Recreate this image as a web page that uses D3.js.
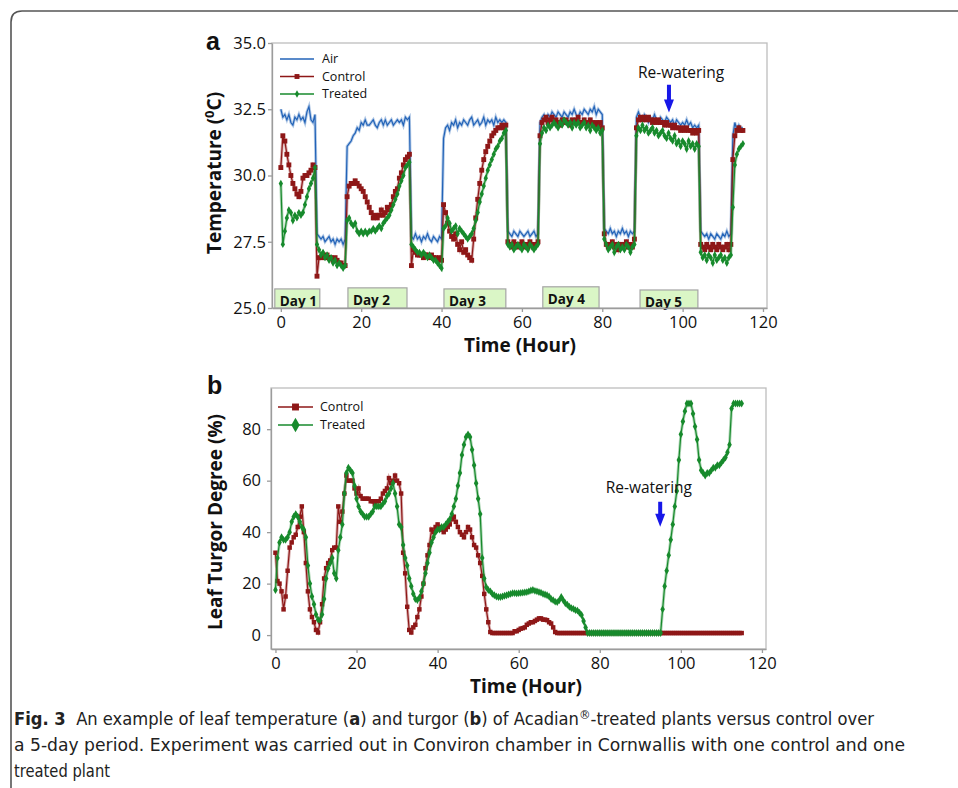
<!DOCTYPE html>
<html>
<head>
<meta charset="utf-8">
<script src="https://cdn.jsdelivr.net/npm/d3@7"></script>
<style>
  body { margin: 0; background: #fff; }
  svg text { font-family: "Open Sans", "Noto Sans", sans-serif; fill: #111; }
  .axis path, .axis line { stroke: #9c9c9c; stroke-width: 1.3; }
  .axis text { font-size: 16.5px; }
  .frame { fill: none; stroke: #bdbdbd; stroke-width: 1.3; }
  .title { font-size: 19px; font-weight: bold; }
  .legend { font-size: 12.5px; }
  .caption { font-family: "Liberation Sans Narrow", "DejaVu Sans Condensed", "Liberation Sans", sans-serif; font-size: 17px; fill: #222; }
</style>
</head>
<body>
<svg id="fig" width="958" height="788"></svg>
<script>
// readings every half hour, starting at hour 0
var hourStep = 0.5;

// ---- panel a : leaf / air temperature (deg C) ----
var airTemp = [
  32.5,32.2,32.3,32.1,32.3,32.0,31.9,32.2,32.1,32.3,32.1,32.2,32.0,32.4,32.6,32.1,32.0,32.3,
  27.8,27.7,27.6,27.7,27.5,27.6,27.7,27.5,27.6,27.4,27.6,27.5,27.6,27.4,27.6,
  31.1,31.2,31.3,31.5,31.6,31.8,31.7,32.0,31.9,32.1,31.9,31.9,32.0,32.1,31.9,31.8,
  32.0,32.1,31.9,32.1,31.9,32.0,32.1,31.9,32.0,32.1,32.0,32.1,31.9,32.2,32.1,32.2,
  27.7,27.6,27.8,27.6,27.7,27.5,27.7,27.6,27.8,27.6,27.5,27.7,27.6,27.5,27.7,27.6,
  31.4,31.8,31.9,31.7,32.0,31.9,32.1,31.8,32.0,31.9,32.1,32.0,31.9,32.1,32.2,31.9,
  32.0,32.1,31.9,32.0,32.2,31.9,32.1,32.0,32.1,31.9,32.2,32.0,32.1,32.0,32.1,32.0,
  27.9,27.8,27.7,27.9,27.8,27.7,27.9,27.8,27.7,27.8,27.9,27.7,27.8,27.9,27.7,27.8,
  32.0,32.2,32.3,32.1,32.3,32.2,32.4,32.3,32.2,32.4,32.3,32.2,32.4,32.3,32.2,32.4,
  32.3,32.5,32.3,32.2,32.4,32.3,32.5,32.4,32.3,32.5,32.4,32.6,32.3,32.5,32.4,32.3,
  28.0,27.9,27.8,28.0,27.8,27.9,27.7,27.9,27.8,28.0,27.8,27.9,27.7,27.9,27.8,27.9,
  32.2,32.4,32.2,32.1,32.3,32.2,32.0,32.2,32.1,32.3,32.1,32.0,32.2,32.1,32.0,32.2,
  32.1,32.0,32.1,31.9,32.1,32.0,31.9,32.0,31.9,32.1,31.9,32.0,31.8,31.9,31.8,31.9,
  27.9,27.8,27.7,27.8,27.6,27.8,27.7,27.6,27.8,27.7,27.6,27.8,27.7,27.9,27.7,27.8,
  31.5,32.0,31.7,31.9,31.8,31.8
];
var controlTemp = [
  30.3,31.5,31.3,30.8,30.4,30.0,29.7,29.5,29.3,29.2,29.4,29.9,30.0,30.0,30.1,30.2,30.4,30.3,
  26.2,26.9,26.9,27.0,26.9,27.0,26.9,26.9,26.8,26.9,26.8,26.7,26.7,26.6,26.6,
  29.2,29.6,29.7,29.7,29.8,29.7,29.6,29.5,29.4,29.2,29.0,28.8,28.6,28.4,28.5,28.4,
  28.5,28.7,28.5,28.6,28.8,28.7,28.9,29.2,29.4,29.5,29.9,30.1,30.4,30.6,30.7,30.8,
  26.6,27.2,27.1,27.0,27.0,27.0,26.9,27.0,27.0,26.9,27.0,26.9,26.9,26.8,26.9,26.8,
  28.9,28.6,28.2,27.9,27.7,27.6,27.8,27.4,27.2,27.5,27.1,27.2,27.0,26.9,26.8,27.6,
  28.4,29.1,29.7,30.2,30.6,30.9,31.1,31.3,31.5,31.6,31.7,31.8,31.8,31.9,31.8,31.9,
  27.5,27.4,27.3,27.5,27.4,27.3,27.4,27.5,27.3,27.4,27.3,27.5,27.4,27.3,27.4,27.5,
  31.5,32.0,32.1,32.2,32.0,32.1,32.2,32.0,32.1,32.0,31.9,32.1,32.0,32.1,32.0,31.9,
  32.1,32.0,32.1,32.2,32.0,32.0,32.1,32.0,31.9,32.1,32.0,31.9,32.0,31.9,32.0,31.8,
  27.8,27.4,27.3,27.4,27.5,27.3,27.4,27.2,27.4,27.3,27.4,27.5,27.3,27.4,27.3,27.6,
  31.8,32.1,32.2,32.1,32.2,32.1,32.2,32.1,32.0,32.1,32.0,32.1,32.0,32.0,31.9,32.0,
  31.9,31.9,31.8,31.9,31.8,31.8,31.7,31.8,31.7,31.8,31.7,31.7,31.6,31.7,31.6,31.7,
  27.4,27.3,27.2,27.4,27.3,27.2,27.4,27.3,27.2,27.4,27.3,27.2,27.3,27.4,27.2,27.4,
  30.6,31.5,31.7,31.8,31.7,31.7
];
var treatedTemp = [
  29.7,27.4,27.9,28.4,28.7,28.6,28.3,28.5,28.4,28.6,28.5,28.6,28.9,29.2,29.5,29.7,29.9,30.3,
  27.4,27.2,27.0,27.1,26.9,27.0,26.8,26.9,26.7,26.8,26.6,26.7,26.6,26.5,26.6,
  28.3,28.4,28.2,28.1,28.2,27.9,27.8,27.9,27.8,27.9,27.8,27.9,27.9,28.0,27.9,28.0,
  28.1,28.0,28.2,28.3,28.4,28.5,28.7,28.9,29.1,29.3,29.6,29.8,30.0,30.3,30.4,30.5,
  27.4,27.3,27.2,27.1,27.1,27.0,27.1,27.0,26.9,27.0,26.9,26.8,26.8,26.7,26.6,26.5,
  28.0,28.1,28.4,28.2,27.9,28.0,28.1,27.8,28.0,27.9,27.8,27.7,27.6,27.7,27.8,28.0,
  28.3,28.6,29.0,29.3,29.6,29.9,30.2,30.4,30.6,30.8,31.0,31.1,31.3,31.4,31.6,31.7,
  27.4,27.3,27.4,27.2,27.3,27.4,27.3,27.2,27.4,27.3,27.2,27.4,27.3,27.2,27.3,27.4,
  31.2,31.6,31.8,31.7,31.9,31.8,31.9,32.0,31.9,31.8,32.0,31.9,32.1,32.0,31.9,32.0,
  31.8,32.0,31.9,32.0,31.8,31.9,32.0,31.8,31.9,31.7,31.9,31.8,31.7,31.8,31.6,31.7,
  27.6,27.4,27.2,27.3,27.4,27.1,27.3,27.4,27.2,27.3,27.2,27.4,27.3,27.1,27.3,27.4,
  31.5,31.8,31.7,31.9,31.7,31.8,31.6,31.7,31.8,31.6,31.7,31.5,31.6,31.7,31.5,31.4,
  31.6,31.4,31.3,31.5,31.2,31.3,31.1,31.3,31.2,31.0,31.3,31.1,31.2,31.0,31.2,31.1,
  27.1,26.9,27.0,26.8,27.0,26.9,26.7,27.0,26.8,26.9,27.0,26.8,26.9,26.7,26.9,27.0,
  28.8,30.4,30.8,31.0,31.1,31.2
];
var tempTicks = [25, 27.5, 30, 32.5, 35];
var hourTicks = [0, 20, 40, 60, 80, 100, 120];

// light periods shown as boxes on the time axis
var dayNames = ["Day 1", "Day 2", "Day 3", "Day 4", "Day 5"];
var dayStart = [-1.5, 16.7, 40.6, 65.2, 89.4];
var dayEnd = [9.7, 31.4, 56.0, 79.2, 103.8];
var dayTop = [25.72, 25.76, 25.72, 25.80, 25.68];

// ---- panel b : leaf turgor degree (%) ----
var controlTurgor = [
  32,21,20,17,10,15,25,34,36,38, 39,42,46,50,40,28,17,10,7,5,
  2,1,5,12,22,26,28,29,33,34, 34,50,44,48,55,62,60,60,60,57,
  55,57,54,53,53,53,53,52,52,51, 52,52,53,55,56,57,61,59,60,62,
  60,59,55,32,24,11,2,1,3,4, 7,10,15,20,26,31,35,41,40,42,
  43,42,41,40,41,42,43,45,46,44, 42,40,39,38,40,42,41,38,35,34,
  31,28,23,16,10,5,1.2,0.8,0.8,0.8, 0.8,0.8,0.8,0.8,0.8,0.8,0.8,0.8,1.5,1.5,
  2,2.5,2.7,3,4,4.5,5,5,5.5,6, 6.5,6.5,6,6,5.8,5,4.5,3,1.2,0.8,
  0.8,0.8,0.8,0.8,0.8,0.8,0.8,0.8,0.8,0.8, 0.8,0.8,0.8,0.8,0.8,0.8,0.8,0.8,0.8,0.8,
  0.8,0.8,0.8,0.8,0.8,0.8,0.8,0.8,0.8,0.8, 0.8,0.8,0.8,0.8,0.8,0.8,0.8,0.8,0.8,0.8,
  0.8,0.8,0.8,0.8,0.8,0.8,0.8,0.8,0.8,0.8, 0.8,0.8,0.8,0.8,0.8,0.8,0.8,0.8,0.8,0.8,
  0.8,0.8,0.8,0.8,0.8,0.8,0.8,0.8,0.8,0.8, 0.8,0.8,0.8,0.8,0.8,0.8,0.8,0.8,0.8,0.8,
  0.8,0.8,0.8,0.8,0.8,0.8,0.8,0.8,0.8,0.8,0.8
];
var treatedTurgor = [
  17.5,30,36,38,37,37,38,40,44,46, 47,46,44,42,41,38,27,20,15,12,
  8,6,5.8,8,14,22,26,28,30,24, 22,33,38,43,55,63,65,64,63,58,
  53,50,48,47,46,46,46,47,48,50, 50,50,50,51,52,54,55,57,59,55,
  50,43,42,35,30,27,22,19,16,14, 13.6,14.5,17,20,24,28,32,36,38,40,
  41,41,42,42,43,44,45,47,50,53, 58,63,70,74,77,78,77,72,66,59,
  53,47,30,22,18.6,17.5,17,16,15.5,15, 14.8,14.8,15,15.3,15.5,15.8,16,16.3,16.3,16.2,
  16.3,16.4,16.5,16.6,16.7,17,17.3,17.5,17.2,17, 16.7,16.5,16,15.8,15.5,15,14,13.6,13,12.8,
  13.5,14.8,13.5,12.4,11.8,11,10.5,10.2,9.7,9.5, 8.7,7.8,5.5,3,0.8,0.8,0.8,0.8,0.8,0.8,
  0.8,0.8,0.8,0.8,0.8,0.8,0.8,0.8,0.8,0.8, 0.8,0.8,0.8,0.8,0.8,0.8,0.8,0.8,0.8,0.8,
  0.8,0.8,0.8,0.8,0.8,0.8,0.8,0.8,0.8,0.8, 0.8,10,19,25,31,37,43,50,56,68,
  78,83,87,90,90,90,86,81,76,68, 64,63,62,63,63,64,65,65,66,66,
  67,68,69,71,74,88,90,90,90,90,90
];
var turgorTicks = [0, 20, 40, 60, 80];

var colors = {air: "#2263b8", control: "#8e1717", treated: "#178a2c"};

var svg = d3.select("#fig");

// rounded border of the figure box
svg.append("path")
  .attr("d", "M11,800 L11,22 Q11,11 22,11 L980,11")
  .attr("fill", "none")
  .attr("stroke", "#555")
  .attr("stroke-width", 1.6);

function toPoints(values) {
  return values.map(function(v, i) { return [i * hourStep, v]; });
}

function drawSeries(g, x, y, values, color, symbol, symSize) {
  var pts = toPoints(values);
  var line = d3.line().x(function(d) { return x(d[0]); }).y(function(d) { return y(d[1]); });
  // soft halo under each line
  g.append("path").datum(pts).attr("d", line)
    .attr("fill", "none").attr("stroke", color).attr("stroke-opacity", 0.35).attr("stroke-width", 3);
  g.append("path").datum(pts).attr("d", line)
    .attr("fill", "none").attr("stroke", color).attr("stroke-width", 1.2);
  if (symbol) {
    g.selectAll(null).data(pts).enter().append("path")
      .attr("d", d3.symbol().type(symbol).size(symSize))
      .attr("transform", function(d) { return "translate(" + x(d[0]) + "," + y(d[1]) + ")"; })
      .attr("fill", color);
  }
}

function drawArrow(g, cx, yTop, yTip) {
  var head = 13, hw = 5, sw = 2;
  g.append("path")
    .attr("d", "M" + (cx - sw) + "," + yTop + "L" + (cx + sw) + "," + yTop +
               "L" + (cx + sw) + "," + (yTip - head) + "L" + (cx + hw) + "," + (yTip - head) +
               "L" + cx + "," + yTip + "L" + (cx - hw) + "," + (yTip - head) +
               "L" + (cx - sw) + "," + (yTip - head) + "Z")
    .attr("fill", "#1717e8");
}

// ================= panel a =================
var xA = d3.scaleLinear().domain([-2.2, 121]).range([272, 767]);
var yA = d3.scaleLinear().domain([25, 35]).range([308, 43]);
var gA = svg.append("g");

gA.append("rect").attr("class", "frame")
  .attr("x", xA.range()[0]).attr("y", yA.range()[1])
  .attr("width", xA.range()[1] - xA.range()[0])
  .attr("height", yA.range()[0] - yA.range()[1]);

// day boxes
var days = gA.selectAll(".day").data(dayNames).enter().append("g").attr("class", "day");
days.append("rect")
  .attr("x", function(d, i) { return xA(dayStart[i]); })
  .attr("y", function(d, i) { return yA(dayTop[i]); })
  .attr("width", function(d, i) { return xA(dayEnd[i]) - xA(dayStart[i]); })
  .attr("height", function(d, i) { return yA(25) - yA(dayTop[i]); })
  .attr("fill", "#daf6c6")
  .attr("stroke", "#a5a5a5")
  .attr("stroke-width", 1.2);
days.append("text")
  .text(function(d) { return d; })
  .attr("x", function(d, i) { return xA(dayStart[i]) + 5; })
  .attr("y", function(d, i) { return yA(dayTop[i]) + 17; })
  .style("font-size", "13.5px")
  .style("font-weight", "bold");

gA.append("g").attr("class", "axis")
  .attr("transform", "translate(0," + yA(25) + ")")
  .call(d3.axisBottom(xA).tickValues(hourTicks).tickSize(4).tickPadding(4).tickSizeOuter(0));
gA.append("g").attr("class", "axis")
  .attr("transform", "translate(" + xA.range()[0] + ",0)")
  .call(d3.axisLeft(yA).tickValues(tempTicks).tickFormat(d3.format(".1f")).tickSize(4).tickPadding(2).tickSizeOuter(0));

drawSeries(gA, xA, yA, airTemp, colors.air, null, 0);
drawSeries(gA, xA, yA, controlTemp, colors.control, d3.symbolSquare, 24);
drawSeries(gA, xA, yA, treatedTemp, colors.treated, d3.symbolDiamond, 16);

// legend a
var legA = [["Air", colors.air, null, 0], ["Control", colors.control, d3.symbolSquare, 24], ["Treated", colors.treated, d3.symbolDiamond, 16]];
legA.forEach(function(l, i) {
  var ly = 59 + i * 17.5;
  gA.append("line").attr("x1", 280).attr("x2", 314).attr("y1", ly).attr("y2", ly)
    .attr("stroke", l[1]).attr("stroke-width", 1.3);
  if (l[2]) gA.append("path").attr("d", d3.symbol().type(l[2]).size(l[3])())
    .attr("transform", "translate(297," + ly + ")").attr("fill", l[1]);
  gA.append("text").attr("class", "legend").attr("x", 322).attr("y", ly).attr("dy", "0.35em").text(l[0]);
});

gA.append("text").attr("class", "title")
  .attr("transform", "translate(221,173) rotate(-90)")
  .style("text-anchor", "middle")
  .html('Temperature (<tspan font-size="13" dy="-7">0</tspan><tspan dy="7">C)</tspan>');
gA.append("text").attr("class", "title")
  .attr("x", 520).attr("y", 352).style("text-anchor", "middle").text("Time (Hour)");
gA.append("text").attr("x", 206).attr("y", 50)
  .style("font-family", "'Liberation Sans', Arial, sans-serif")
  .style("font-size", "25px").style("font-weight", "bold").text("a");

gA.append("text").attr("x", xA(99.6)).attr("y", yA(33.87)).attr("dy", "0.35em")
  .style("text-anchor", "middle").style("font-size", "15.5px").style("font-weight", 500)
  .text("Re-watering");
drawArrow(gA, xA(96.6), yA(33.42), yA(32.38));

// ================= panel b =================
var xB = d3.scaleLinear().domain([-1.1, 121]).range([271, 766]);
var yB = d3.scaleLinear().domain([-5.4, 96]).range([649, 388]);
var gB = svg.append("g");

gB.append("rect").attr("class", "frame")
  .attr("x", xB.range()[0]).attr("y", yB.range()[1])
  .attr("width", xB.range()[1] - xB.range()[0])
  .attr("height", yB.range()[0] - yB.range()[1]);

gB.append("g").attr("class", "axis")
  .attr("transform", "translate(0," + yB.range()[0] + ")")
  .call(d3.axisBottom(xB).tickValues(hourTicks).tickSize(4).tickPadding(4).tickSizeOuter(0));
gB.append("g").attr("class", "axis")
  .attr("transform", "translate(" + xB.range()[0] + ",0)")
  .call(d3.axisLeft(yB).tickValues(turgorTicks).tickSize(4).tickPadding(6).tickSizeOuter(0));

drawSeries(gB, xB, yB, controlTurgor, colors.control, d3.symbolSquare, 20);
drawSeries(gB, xB, yB, treatedTurgor, colors.treated, d3.symbolDiamond, 18);

var legB = [["Control", colors.control, d3.symbolSquare, 48], ["Treated", colors.treated, d3.symbolDiamond, 60]];
legB.forEach(function(l, i) {
  var ly = 407 + i * 18;
  gB.append("line").attr("x1", 278).attr("x2", 313).attr("y1", ly).attr("y2", ly)
    .attr("stroke", l[1]).attr("stroke-width", 1.3);
  gB.append("path").attr("d", d3.symbol().type(l[2]).size(l[3])())
    .attr("transform", "translate(295.5," + ly + ")").attr("fill", l[1]);
  gB.append("text").attr("class", "legend").attr("x", 320).attr("y", ly).attr("dy", "0.35em").text(l[0]);
});

gB.append("text").attr("class", "title")
  .attr("transform", "translate(222,522) rotate(-90)")
  .style("text-anchor", "middle")
  .text("Leaf Turgor Degree (%)");
gB.append("text").attr("class", "title")
  .attr("x", 526).attr("y", 693).style("text-anchor", "middle").text("Time (Hour)");
gB.append("text").attr("x", 207).attr("y", 394)
  .style("font-family", "'Liberation Sans', Arial, sans-serif")
  .style("font-size", "25px").style("font-weight", "bold").text("b");

gB.append("text").attr("x", xB(92.1)).attr("y", yB(57.5)).attr("dy", "0.35em")
  .style("text-anchor", "middle").style("font-size", "15.5px").style("font-weight", 500)
  .text("Re-watering");
drawArrow(gB, xB(94.9), yB(51.8), yB(42.1));

// ================= caption =================
var cap1 = svg.append("text").attr("class", "caption").attr("x", 14).attr("y", 725)
  .attr("textLength", 860).attr("lengthAdjust", "spacingAndGlyphs");
cap1.append("tspan").style("font-weight", "bold").text("Fig. 3");
cap1.append("tspan").text("\u00a0 An example of leaf temperature (");
cap1.append("tspan").style("font-weight", "bold").text("a");
cap1.append("tspan").text(") and turgor (");
cap1.append("tspan").style("font-weight", "bold").text("b");
cap1.append("tspan").text(") of Acadian");
cap1.append("tspan").attr("dy", -6).style("font-size", "12px").text("\u00ae");
cap1.append("tspan").attr("dy", 6).text("-treated plants versus control over");

svg.append("text").attr("class", "caption").attr("x", 14).attr("y", 751)
  .attr("textLength", 891).attr("lengthAdjust", "spacingAndGlyphs")
  .text("a 5-day period. Experiment was carried out in Conviron chamber in Cornwallis with one control and one");
svg.append("text").attr("class", "caption").attr("x", 14).attr("y", 777)
  .attr("textLength", 96).attr("lengthAdjust", "spacingAndGlyphs")
  .text("treated plant");
</script>
</body>
</html>
